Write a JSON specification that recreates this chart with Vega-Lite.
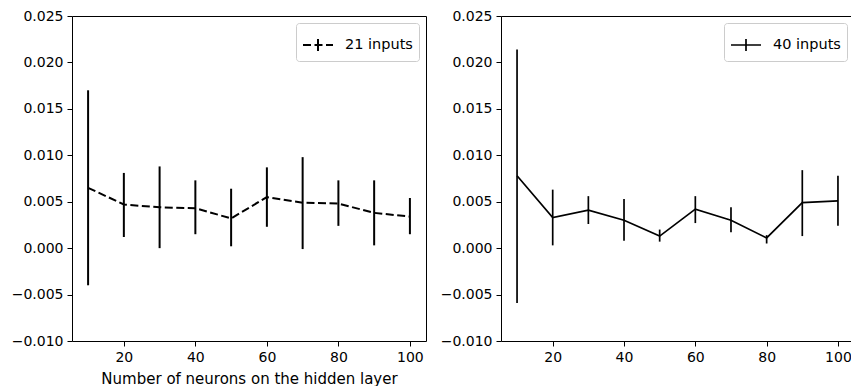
{
  "$schema": "https://vega.github.io/schema/vega-lite/v6.json",
  "padding": {"left": 10, "top": 8, "right": 0, "bottom": 0},
  "spacing": 12,
  "datasets": {
    "d": [
      {"series": "21 inputs", "n": 10, "mean": 0.0065, "lo": -0.0040, "hi": 0.0170},
      {"series": "21 inputs", "n": 20, "mean": 0.0047, "lo": 0.0012, "hi": 0.0081},
      {"series": "21 inputs", "n": 30, "mean": 0.0044, "lo": 0.0000, "hi": 0.0088},
      {"series": "21 inputs", "n": 40, "mean": 0.0043, "lo": 0.0015, "hi": 0.0073},
      {"series": "21 inputs", "n": 50, "mean": 0.0032, "lo": 0.0002, "hi": 0.0064},
      {"series": "21 inputs", "n": 60, "mean": 0.0055, "lo": 0.0023, "hi": 0.0087},
      {"series": "21 inputs", "n": 70, "mean": 0.0049, "lo": -0.0001, "hi": 0.0098},
      {"series": "21 inputs", "n": 80, "mean": 0.0048, "lo": 0.0024, "hi": 0.0073},
      {"series": "21 inputs", "n": 90, "mean": 0.0038, "lo": 0.0003, "hi": 0.0073},
      {"series": "21 inputs", "n": 100, "mean": 0.0034, "lo": 0.0015, "hi": 0.0054},
      {"series": "40 inputs", "n": 10, "mean": 0.0078, "lo": -0.0059, "hi": 0.0214},
      {"series": "40 inputs", "n": 20, "mean": 0.0033, "lo": 0.0003, "hi": 0.0063},
      {"series": "40 inputs", "n": 30, "mean": 0.0041, "lo": 0.0026, "hi": 0.0056},
      {"series": "40 inputs", "n": 40, "mean": 0.0030, "lo": 0.0008, "hi": 0.0053},
      {"series": "40 inputs", "n": 50, "mean": 0.0013, "lo": 0.0007, "hi": 0.0020},
      {"series": "40 inputs", "n": 60, "mean": 0.0042, "lo": 0.0027, "hi": 0.0056},
      {"series": "40 inputs", "n": 70, "mean": 0.0030, "lo": 0.0017, "hi": 0.0044},
      {"series": "40 inputs", "n": 80, "mean": 0.0011, "lo": 0.0005, "hi": 0.0014},
      {"series": "40 inputs", "n": 90, "mean": 0.0049, "lo": 0.0013, "hi": 0.0084},
      {"series": "40 inputs", "n": 100, "mean": 0.0051, "lo": 0.0024, "hi": 0.0078}
    ]
  },
  "hconcat": [
    {
      "width": 354,
      "height": 325,
      "data": {"name": "d"},
      "transform": [{"filter": "datum.series == '21 inputs'"}],
      "encoding": {
        "x": {"field": "n", "type": "quantitative", "scale": {"domain": [5.5, 104.5], "nice": false, "zero": false},
              "axis": {"values": [20, 40, 60, 80, 100], "title": "Number of neurons on the hidden layer"}}
      },
      "layer": [
        {
          "mark": {"type": "rule", "strokeWidth": 2, "color": "black"},
          "encoding": {
            "y": {"field": "lo", "type": "quantitative", "scale": {"domain": [-0.01, 0.025], "nice": false, "zero": false},
                  "axis": {"values": [-0.01, -0.005, 0, 0.005, 0.01, 0.015, 0.02, 0.025], "format": ".3f", "title": null}},
            "y2": {"field": "hi"}
          }
        },
        {
          "mark": {"type": "line", "strokeWidth": 2, "strokeDash": [8, 3.5]},
          "encoding": {
            "y": {"field": "mean", "type": "quantitative"},
            "color": {"field": "series", "type": "nominal", "scale": {"range": ["black"]},
                      "legend": {"title": null, "symbolDash": [8, 3.5], "symbolStrokeWidth": 2}}
          }
        }
      ]
    },
    {
      "width": 353,
      "height": 325,
      "data": {"name": "d"},
      "transform": [{"filter": "datum.series == '40 inputs'"}],
      "encoding": {
        "x": {"field": "n", "type": "quantitative", "scale": {"domain": [5.5, 104.5], "nice": false, "zero": false},
              "axis": {"values": [20, 40, 60, 80, 100], "title": null}}
      },
      "layer": [
        {
          "mark": {"type": "rule", "strokeWidth": 1.7, "color": "black"},
          "encoding": {
            "y": {"field": "lo", "type": "quantitative", "scale": {"domain": [-0.01, 0.025], "nice": false, "zero": false},
                  "axis": {"values": [-0.01, -0.005, 0, 0.005, 0.01, 0.015, 0.02, 0.025], "format": ".3f", "title": null}},
            "y2": {"field": "hi"}
          }
        },
        {
          "mark": {"type": "line", "strokeWidth": 1.7},
          "encoding": {
            "y": {"field": "mean", "type": "quantitative"},
            "color": {"field": "series", "type": "nominal", "scale": {"range": ["black"]},
                      "legend": {"title": null, "symbolStrokeWidth": 1.7}}
          }
        }
      ]
    }
  ],
  "resolve": {"scale": {"color": "independent"}, "legend": {"color": "independent"}},
  "config": {
    "font": "DejaVu Sans",
    "view": {"stroke": "black", "strokeWidth": 1},
    "axis": {
      "domain": false,
      "grid": false,
      "ticks": true,
      "tickColor": "black",
      "tickWidth": 1,
      "tickSize": 5,
      "labelPadding": 4,
      "labelFont": "DejaVu Sans",
      "labelFontSize": 14,
      "labelColor": "black",
      "titleFont": "DejaVu Sans",
      "titleFontSize": 15,
      "titleFontWeight": "normal",
      "titleColor": "black",
      "titlePadding": 7
    },
    "legend": {
      "orient": "top-right",
      "offset": 7,
      "fillColor": "white",
      "strokeColor": "#cccccc",
      "cornerRadius": 3,
      "padding": 6,
      "symbolType": "M-1,0H1M0,-0.4V0M0,0.4V0",
      "symbolSize": 900,
      "symbolStrokeColor": "black",
      "symbolFillColor": "transparent",
      "labelFont": "DejaVu Sans",
      "labelFontSize": 14.5,
      "labelColor": "black",
      "labelOffset": 11
    }
  }
}
